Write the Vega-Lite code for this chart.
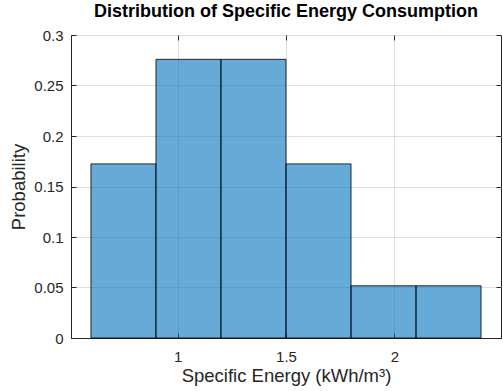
{
  "$schema": "https://vega.github.io/schema/vega-lite/v6.json",
  "autosize": "none",
  "width": 430,
  "height": 303,
  "padding": {"left": 71, "top": 35, "right": 2, "bottom": 53},
  "background": "white",
  "title": {"text": "Distribution of Specific Energy Consumption", "fontSize": 18, "font": "Liberation Sans", "fontWeight": "bold", "color": "#000000", "offset": 7, "anchor": "middle"},
  "data": {"values": [
    {"start": 0.6, "end": 0.9, "p": 0.1724},
    {"start": 0.9, "end": 1.2, "p": 0.2759},
    {"start": 1.2, "end": 1.5, "p": 0.2759},
    {"start": 1.5, "end": 1.8, "p": 0.1724},
    {"start": 1.8, "end": 2.1, "p": 0.0517},
    {"start": 2.1, "end": 2.4, "p": 0.0517}
  ]},
  "config": {
    "view": {"stroke": "#262626", "strokeWidth": 1},
    "axis": {"labelFont": "Liberation Sans", "titleFont": "Liberation Sans", "labelFontSize": 15, "titleFontSize": 18.5, "labelColor": "#262626", "titleColor": "#262626", "titleFontWeight": "normal", "domainColor": "#262626", "tickColor": "#262626", "gridColor": "#dfdfdf", "gridOpacity": 1, "tickSize": -5}
  },
  "layer": [
    {
      "mark": {"type": "bar", "color": "#0072BD", "fillOpacity": 0.6, "stroke": "#000000", "strokeWidth": 0.8},
      "encoding": {
        "x": {"field": "start", "type": "quantitative", "scale": {"domain": [0.508, 2.492], "nice": false, "zero": false}, "axis": {"values": [1, 1.5, 2], "format": "~g", "title": "Specific Energy (kWh/m³)", "labelPadding": 16, "titlePadding": 2, "grid": true, "labelFlush": false}},
        "x2": {"field": "end"},
        "y": {"field": "p", "type": "quantitative", "scale": {"domain": [0, 0.3], "nice": false}, "axis": {"values": [0, 0.05, 0.1, 0.15, 0.2, 0.25, 0.3], "format": "~g", "title": "Probability", "labelPadding": 13, "titlePadding": 5, "grid": true, "labelFlush": false}},
        "y2": {"datum": 0}
      }
    },
    {
      "mark": {"type": "bar", "opacity": 0},
      "encoding": {
        "x": {"field": "start", "type": "quantitative", "scale": {"domain": [0.508, 2.492], "nice": false, "zero": false}, "axis": {"orient": "top", "values": [1, 1.5, 2], "labels": false, "title": null, "grid": false, "domain": false}},
        "x2": {"field": "end"},
        "y": {"field": "p", "type": "quantitative", "scale": {"domain": [0, 0.3], "nice": false}, "axis": {"orient": "right", "values": [0, 0.05, 0.1, 0.15, 0.2, 0.25, 0.3], "labels": false, "title": null, "grid": false, "domain": false}},
        "y2": {"datum": 0}
      }
    }
  ],
  "resolve": {"axis": {"x": "independent", "y": "independent"}}
}
